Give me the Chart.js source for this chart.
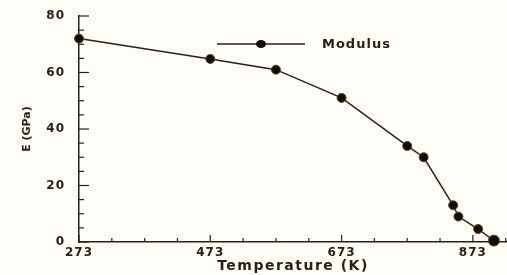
<!DOCTYPE html>
<html><head><meta charset="utf-8">
<script src="https://cdn.jsdelivr.net/npm/chart.js@4"></script>
<style>html,body{margin:0;padding:0;background:#fffdf7;}#wrap{width:507px;height:275px;}</style>
</head><body><div id="wrap"><canvas id="c" width="507" height="275"></canvas></div>
<script>
const seriesName = 'Modulus';
const temperatures = [273, 473, 573, 673, 773, 798, 843, 851, 881, 905];
const modulus = [72, 64.8, 61, 51, 34, 30, 13, 9, 4.6, 0.5];
const xTickLabels = [273, 473, 673, 873];
const yTickLabels = [0, 20, 40, 60, 80];
const xAxisTitle = 'Temperature (K)';
const yAxisTitle = 'E (GPa)';

const ink = '#2a2114';
const font = "'DejaVu Sans', Arial, sans-serif";

function withSpacing(fn, sp) {
  return function (...args) {
    const ctx = this.ctx;
    const prev = ctx.letterSpacing;
    ctx.letterSpacing = sp;
    const r = fn.apply(this, args);
    ctx.letterSpacing = prev || '0px';
    return r;
  };
}

const spacingPlugin = {
  id: 'spacing',
  afterLayout(chart) {
    const x = chart.scales.x, y = chart.scales.y;
    if (!x._spaced) {
      x.drawLabels = withSpacing(x.drawLabels, '1px');
      x.drawTitle = withSpacing(x.drawTitle, '1.5px');
      x._spaced = true;
    }
    if (!y._spaced) {
      y.drawLabels = withSpacing(y.drawLabels, '1px');
      y._spaced = true;
    }
  }
};

const tickPlugin = {
  id: 'inTicks',
  afterDatasetsDraw(chart) {
    const ctx = chart.ctx, x = chart.scales.x, y = chart.scales.y;
    ctx.save();
    ctx.strokeStyle = ink; ctx.lineWidth = 1.2;
    for (let v = 0; v <= 80; v += 5) {
      const p = y.getPixelForValue(v);
      const len = (v % 20 === 0) ? 10 : 5;
      ctx.beginPath(); ctx.moveTo(x.left, p); ctx.lineTo(x.left + len, p); ctx.stroke();
    }
    for (let v = 273; v <= x.max; v += 50) {
      const p = x.getPixelForValue(v);
      const len = ((v - 273) % 200 === 0) ? 7 : 4;
      ctx.beginPath(); ctx.moveTo(p, y.bottom); ctx.lineTo(p, y.bottom - len); ctx.stroke();
    }
    // legend
    const ds = chart.data.datasets[0];
    const lx0 = 217, lx1 = 305, ly = 44;
    ctx.strokeStyle = ink; ctx.lineWidth = 1.6;
    ctx.beginPath(); ctx.moveTo(lx0, ly); ctx.lineTo(lx1, ly); ctx.stroke();
    ctx.fillStyle = '#120d06';
    ctx.beginPath(); ctx.ellipse((lx0 + lx1) / 2, ly, 5, 4, 0, 0, Math.PI * 2); ctx.fill();
    ctx.fillStyle = ink;
    ctx.font = 'bold 13px ' + font;
    ctx.letterSpacing = '1px';
    ctx.textBaseline = 'middle';
    ctx.fillText(ds.label, 322, ly + 1);
    ctx.restore();
  }
};

new Chart(document.getElementById('c'), {
  type: 'line',
  data: {
    datasets: [{
      label: seriesName,
      data: temperatures.map((t, i) => ({x: t, y: modulus[i]})),
      borderColor: ink,
      borderWidth: 1.5,
      pointBackgroundColor: '#120d06',
      pointBorderColor: '#5a4520',
      pointBorderWidth: 1,
      pointRadius: (c) => c.dataIndex === modulus.length - 1 ? 5.5 : 4.5,
      tension: 0,
      clip: false
    }]
  },
  options: {
    responsive: false,
    animation: false,
    layout: {autoPadding: false, padding: {top: 16, right: 0, left: 21, bottom: 0}},
    plugins: {legend: {display: false}, tooltip: {enabled: false}},
    scales: {
      x: {
        type: 'linear', min: 273, max: 925,
        afterBuildTicks: (s) => { s.ticks = xTickLabels.map(v => ({value: v})); },
        afterFit: (s) => { s.height = 33; s.paddingRight = 0; s.paddingLeft = 0; },
        grid: {display: false, drawTicks: false},
        border: {display: true, color: ink, width: 1.5},
        ticks: {color: ink, font: {family: font, size: 12, weight: 'bold'}, padding: 4, maxRotation: 0, autoSkip: false},
        title: {display: true, text: xAxisTitle, color: ink, font: {family: font, size: 14, weight: 'bold'}, padding: {top: 0, bottom: 0}}
      },
      y: {
        min: 0, max: 80,
        afterBuildTicks: (s) => { s.ticks = yTickLabels.map(v => ({value: v})); },
        afterFit: (s) => { s.width = 58; s.paddingTop = 0; },
        grid: {display: false, drawTicks: false},
        border: {display: true, color: ink, width: 1.5},
        ticks: {color: ink, font: {family: font, size: 12, weight: 'bold'}, padding: 14},
        title: {display: true, text: yAxisTitle, color: ink, font: {family: font, size: 11, weight: 'bold'}, padding: {top: 0, bottom: 0}}
      }
    }
  },
  plugins: [spacingPlugin, tickPlugin]
});
</script></body></html>
